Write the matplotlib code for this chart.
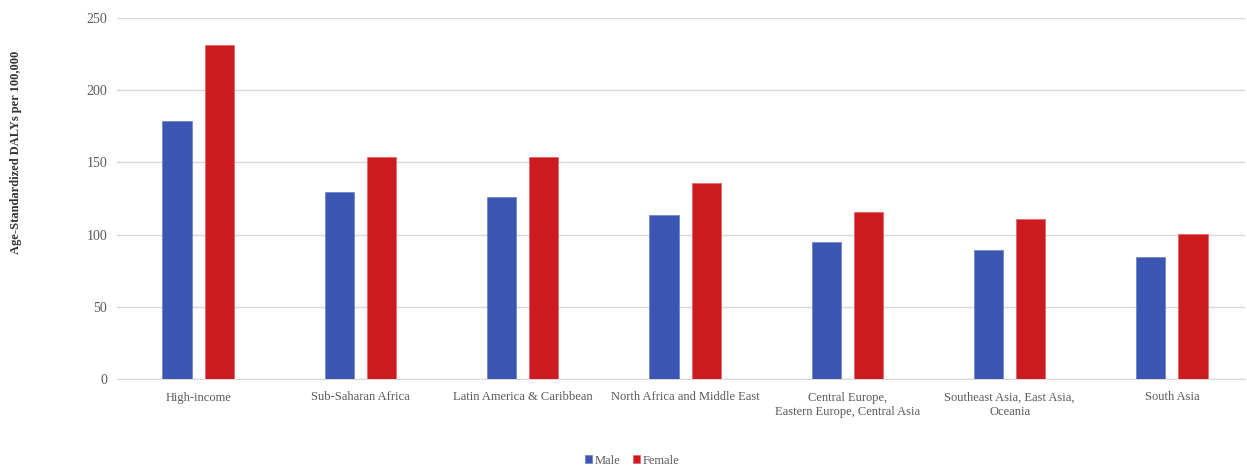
import matplotlib
matplotlib.use("Agg")
import matplotlib.pyplot as plt
import numpy as np

categories = ["High-income", "Sub-Saharan Africa", "Latin America & Caribbean",
              "North Africa and Middle East", "Central Europe,\nEastern Europe, Central Asia",
              "Southeast Asia, East Asia,\nOceania", "South Asia"]
male = [178.7, 129.3, 125.8, 113.4, 94.9, 89.1, 84.5]
female = [231.6, 153.9, 153.5, 135.5, 115.4, 110.6, 100.4]
yticks = [0, 50, 100, 150, 200, 250]

plt.rcParams['font.family'] = ['Liberation Serif', 'DejaVu Serif']

fig = plt.figure(figsize=(12.47, 4.66), dpi=100)
ax = fig.add_axes([117 / 1247, 1 - 379 / 466, (1245 - 117) / 1247, (379 - 18) / 466])

x = np.arange(len(categories))
w = 0.18
off = 0.13
blue = "#3A56B0"
red = "#CC1A1E"
ax.bar(x - off, male, width=w, color=blue, label="Male", edgecolor="#6f86cf", linewidth=0.6, zorder=3)
ax.bar(x + off, female, width=w, color=red, label="Female", edgecolor="#e0676a", linewidth=0.6, zorder=3)

ax.set_xlim(-0.5, len(categories) - 0.55)
ax.set_ylim(0, 250)
ax.set_yticks(yticks)
ax.yaxis.grid(True, color="#d9d9d9", linewidth=1.0, zorder=0)
ax.set_axisbelow(True)
for s in ["top", "right", "left"]:
    ax.spines[s].set_visible(False)
ax.spines["bottom"].set_color("#d9d9d9")
ax.tick_params(axis="both", length=0, colors="#595959")
ax.tick_params(axis="y", pad=7, labelsize=10)
ax.tick_params(axis="x", pad=9, labelsize=9)
ax.set_xticks(x)
ax.set_xticklabels(categories, linespacing=1.25)

fig.text(0.013, 1 - 152 / 466, "Age-Standardized DALYs per 100,000", rotation=90, ha="center", va="center",
         fontsize=9, fontweight="bold", color="#333333")

leg = fig.legend(loc="center", bbox_to_anchor=(0.507, 0.011), ncol=2, frameon=False,
                 fontsize=9, handlelength=0.6, handleheight=0.6, handletextpad=0.2,
                 columnspacing=1.0, labelcolor="#595959")
fig.savefig("out.png", dpi=100)
